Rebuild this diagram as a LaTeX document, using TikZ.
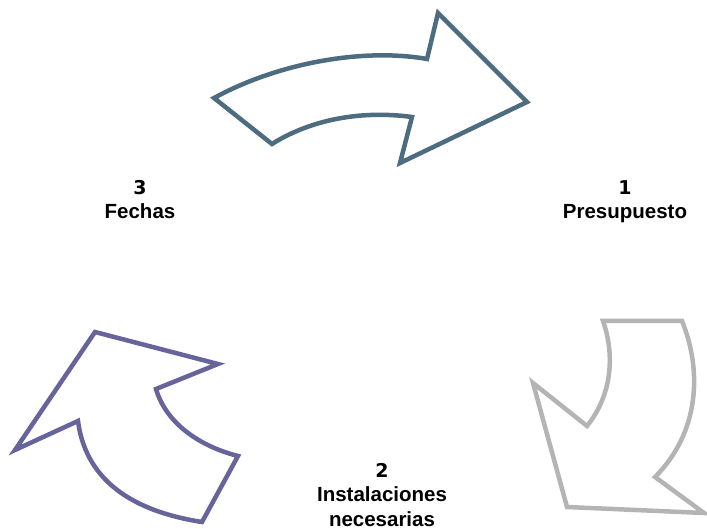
\documentclass[tikz,border=0pt]{standalone}
\usepackage{fontspec}
\setmainfont{Liberation Sans}
\newfontfamily\numfont{DejaVu Sans}
\usetikzlibrary{positioning}
\definecolor{topblue}{HTML}{4E6C80}
\definecolor{leftpurple}{HTML}{66649A}
\definecolor{rightgray}{HTML}{B4B4B4}
\tikzstyle{bigarrow} = [line width=4.5pt, line join=miter, fill=white]
\tikzstyle{steplabel} = [inner sep=0pt, align=center, anchor=north,
font=\bfseries\fontsize{20.5}{24.5}\selectfont]

\begin{document}
\begin{tikzpicture} [x=1pt, y=-1pt]
    \useasboundingbox (0,0) rectangle (707,529);

    % top arrow
    \draw[bigarrow, draw=topblue] (214,98) .. controls (280,62) and (365,48) .. (427,59)
    -- (438,13) -- (527,102) -- (400,163) -- (412,117)
    .. controls (360,110) and (310,120) .. (272,144) -- cycle;
    % right arrow
    \draw[bigarrow, draw=rightgray] (603,321) -- (682,321)
    .. controls (702,370) and (700,432) .. (655,477) -- (704,513) -- (567,507)
    -- (533,383) -- (587,426) .. controls (612,395) and (615,355) .. (603,321) -- cycle;
    % left arrow
    \draw[bigarrow, draw=leftpurple] (95,332) -- (218,364) -- (156,389)
    .. controls (165,420) and (195,445) .. (238,456) -- (202,522)
    .. controls (125,510) and (85,475) .. (78,421) -- (15,450) -- cycle;

    \node (presupuesto) [steplabel] at (625,180) {{\numfont\fontsize{19}{24.5}\selectfont 1}\\Presupuesto};
    \node (instalaciones) [steplabel] at (382,463) {{\numfont\fontsize{19}{24.5}\selectfont 2}\\Instalaciones\\necesarias};
    \node (fechas) [steplabel] at (140,180) {{\numfont\fontsize{19}{24.5}\selectfont 3}\\Fechas};

\end{tikzpicture}
\end{document}
